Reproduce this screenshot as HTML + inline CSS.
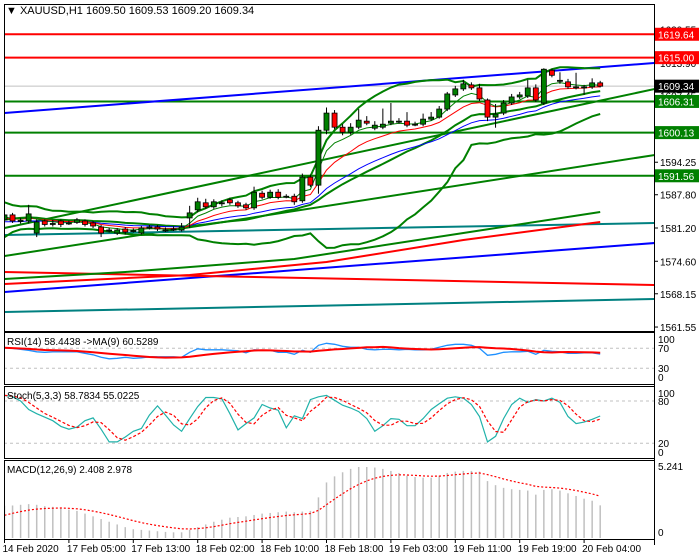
<!DOCTYPE html>
<html><head><meta charset="utf-8"><style>
html,body{margin:0;padding:0;background:#fff;}
svg{display:block;font-family:"Liberation Sans",sans-serif;}
</style></head><body>
<svg id="c" width="700" height="560" viewBox="0 0 700 560" xmlns="http://www.w3.org/2000/svg">
<defs>
<clipPath id="cm"><rect x="4" y="4" width="650" height="327"/></clipPath>
<clipPath id="cr"><rect x="4" y="333" width="650" height="51"/></clipPath>
<clipPath id="cs"><rect x="4" y="387" width="650" height="71"/></clipPath>
<clipPath id="cd"><rect x="4" y="461" width="650" height="78"/></clipPath>
</defs>
<rect x="0" y="0" width="700" height="560" fill="#fff"/>
<g id="main" clip-path="url(#cm)"></g>
<g id="rsi" clip-path="url(#cr)"></g>
<g id="sto" clip-path="url(#cs)"></g>
<g id="macd" clip-path="url(#cd)"></g>
<g id="frames"></g>
<g id="axis"></g>
<g id="taxis"></g>
<text x="6" y="14" font-size="11" fill="#000">▼ XAUUSD,H1  1609.50 1609.53 1609.20 1609.34</text>
<text x="7" y="345" font-size="10" fill="#000">RSI(14) 58.4438  -&gt;MA(9) 60.5289</text>
<text x="7" y="399" font-size="10" fill="#000">Stoch(5,3,3) 58.7834 55.0225</text>
<text x="7" y="473" font-size="10" fill="#000">MACD(12,26,9) 2.408 2.978</text>
</svg>
<script>
const priorCloses=[1579,1578,1580,1582,1584,1586,1585,1583,1584,1582,1583,1584,1581,1582,1583,1584,1582,1583,1584,1583];
const opens=[1582.8,1583.8,1582.6,1582.6,1580.2,1582.6,1582.0,1582.6,1582.2,1582.3,1582.6,1582.2,1581.4,1580.8,1580.2,1581.0,1580.7,1580.2,1581.4,1581.4,1580.8,1581.0,1580.8,1583.2,1584.8,1586.2,1585.4,1586.2,1586.8,1586.2,1585.8,1585.2,1588.1,1587.3,1588.3,1587.5,1587.5,1586.6,1591.3,1589.7,1600.6,1604.0,1601.2,1600.2,1601.2,1602.4,1601.0,1601.2,1602.0,1602.4,1602.4,1601.8,1601.8,1602.8,1603.2,1604.8,1607.6,1608.8,1609.6,1609.0,1606.6,1603.2,1604.0,1606.0,1607.2,1607.4,1609.0,1606.0,1612.5,1610.5,1610.2,1609.2,1609.2,1609.2,1610.0];
const closes=[1583.8,1582.6,1582.7,1584.0,1582.4,1581.9,1582.1,1581.9,1582.2,1582.8,1581.9,1581.6,1580.2,1580.8,1580.8,1580.4,1580.7,1581.2,1581.4,1581.0,1580.8,1581.0,1581.4,1584.2,1586.4,1585.4,1586.4,1586.2,1586.2,1585.6,1585.2,1588.3,1587.3,1588.3,1587.3,1587.5,1586.4,1591.3,1589.7,1600.6,1604.0,1601.2,1600.2,1601.2,1602.6,1602.0,1601.6,1601.8,1602.4,1602.4,1601.6,1601.8,1602.8,1603.2,1604.8,1607.8,1608.8,1609.8,1609.0,1606.8,1603.2,1603.8,1606.0,1607.2,1607.6,1609.0,1606.6,1612.7,1611.5,1610.5,1609.2,1609.2,1609.2,1610.0,1609.34];
const highs=[1584.6,1584.2,1583.2,1585.8,1582.9,1582.9,1582.8,1582.9,1582.7,1583.2,1582.9,1582.6,1581.8,1581.3,1581.2,1581.4,1581.1,1581.6,1581.8,1581.8,1581.3,1581.5,1582.2,1585.6,1587.2,1587.0,1586.9,1586.7,1587.2,1586.6,1586.2,1589.4,1588.6,1588.8,1588.9,1587.9,1588.0,1592.0,1591.8,1601.4,1605.1,1604.6,1601.8,1602.0,1604.8,1603.4,1602.4,1604.9,1606.0,1603.0,1604.2,1602.3,1603.9,1604.2,1605.4,1608.2,1609.4,1610.6,1610.1,1609.8,1606.9,1605.8,1606.6,1607.8,1608.2,1610.6,1609.7,1612.9,1612.8,1612.1,1610.8,1612.0,1609.6,1610.9,1610.4];
const lows=[1582.3,1582.2,1582.1,1582.1,1579.4,1581.5,1581.5,1581.4,1581.8,1582.0,1581.5,1581.2,1579.4,1580.3,1579.8,1579.9,1580.3,1579.9,1580.9,1580.6,1580.4,1580.6,1580.5,1581.2,1584.3,1585.0,1585.0,1585.5,1585.8,1585.2,1584.8,1584.8,1586.9,1587.0,1586.9,1587.1,1585.8,1586.2,1589.3,1588.0,1599.8,1600.8,1599.6,1599.7,1600.8,1601.6,1600.6,1600.8,1601.6,1601.9,1601.2,1601.4,1601.4,1602.5,1602.9,1604.4,1607.2,1608.4,1608.6,1606.4,1602.4,1601.1,1603.6,1605.6,1606.8,1607.0,1606.2,1605.6,1611.1,1609.8,1608.8,1608.7,1607.6,1608.8,1609.1];
const hLevels=[1619.64,1615.00,1606.31,1600.13,1591.56];
const hColors=["#ff0000","#ff0000","#008000","#008000","#008000"];
// trendlines: [startBar,startPrice,endBar,endPrice]
const trendBlueUpper=[0,1604.02,80.75,1613.94];
const trendGreen=[0,1575.64,80.75,1595.68];
const trendGreen2=[0,1581.2,80.75,1608.78];
const trendTealUpper=[0,1579.81,80.75,1582.19];
const trendTealLower=[0,1564.53,80.75,1567.11];
const trendBlueLower=[0,1568.5,80.75,1578.22];
const trendRedFall=[0,1572.47,80.75,1569.89];
const ma100Bars=[0,15,36,57,74];
const ma100Vals=[1571.08,1572.47,1575.05,1580.21,1584.37];
const ma200Bars=[0,23,40,57,74];
const ma200Vals=[1570.09,1571.87,1574.45,1578.82,1582.39];
const priceTicks=[1620.55,1613.90,1607.45,1600.70,1594.25,1587.80,1581.20,1574.60,1568.15,1561.55];
const rsiVals=[71,70,68,66,63,62,63,63,63,63,60,57,52,49,50,52,50,51,53,53,53,53,52,62,69,67,67,67,66,65,61,67,66,66,62,62,58,66,62,76,80,78,74,72,72,68,67,68,68,67,68,67,67,68,72,76,78,78,76,70,56,58,62,63,63,64,58,66,64,63,60,60,61,61,58.44];
const stochK=[88,86,80,68,62,57,52,44,40,43,52,56,40,22,22,29,37,41,60,73,60,46,37,55,72,85,85,83,62,39,48,56,75,70,67,42,59,55,82,86,88,81,74,70,65,55,37,45,55,54,45,45,55,68,76,84,86,84,75,58,22,30,55,75,84,78,82,80,84,78,58,48,50,54,58.78];
const macdVals=[2.38,2.4,2.45,2.5,2.45,2.35,2.3,2.25,2.1,2.0,1.8,1.6,1.4,1.2,1.0,0.8,0.65,0.6,0.55,0.5,0.45,0.42,0.42,0.6,0.8,1.0,1.2,1.35,1.5,1.55,1.6,1.7,1.8,1.85,1.9,1.95,1.9,1.95,2.0,3.0,4.1,4.55,4.85,5.1,5.24,5.24,5.2,5.1,4.95,4.8,4.6,4.5,4.45,4.45,4.6,4.8,4.9,4.95,4.95,4.9,4.2,3.9,3.7,3.6,3.55,3.5,3.2,3.55,3.6,3.5,3.3,3.1,2.9,2.75,2.41];
const macdSignalStart=1.5;
const timeLabels=["14 Feb 2020","17 Feb 05:00","17 Feb 13:00","18 Feb 02:00","18 Feb 10:00","18 Feb 18:00","19 Feb 03:00","19 Feb 11:00","19 Feb 19:00","20 Feb 04:00"];
const rsiScale=[100,70,30,0];
const stochScale=[100,80,20,0];

const NS="http://www.w3.org/2000/svg";
function mk(tag,attrs,parent){const e=document.createElementNS(NS,tag);for(const k in attrs)e.setAttribute(k,attrs[k]);parent.appendChild(e);return e;}
const xOf=i=>4.5+i*8.05;
const yP=p=>228-(p-1581.2)*5.04;
const yR=v=>383.3-0.5*v;
const yS=v=>457.4-0.705*v;
const yM=v=>538-v*13.55;
const G=id=>document.getElementById(id);
const main=G('main'),rsi=G('rsi'),sto=G('sto'),macd=G('macd'),frames=G('frames'),axis=G('axis'),taxis=G('taxis');

function poly(vals,startIdx,yf,parent,stroke,w,name,dash){
  let pts=[];vals.forEach((v,i)=>{if(v!=null)pts.push(xOf(i+startIdx).toFixed(1)+','+yf(v).toFixed(1));});
  const a={points:pts.join(' '),fill:'none',stroke:stroke,'stroke-width':w};
  if(dash)a['stroke-dasharray']=dash;
  const e=mk('polyline',a,parent);
  
  
  return e;
}
function ema(arr,n){const k=2/(n+1);let out=[],p=arr[0];arr.forEach((v,i)=>{p=i?v*k+p*(1-k):v;out.push(p);});return out;}
function sma(arr,n){return arr.map((v,i)=>{const s=arr.slice(Math.max(0,i-n+1),i+1);return s.reduce((a,b)=>a+b,0)/s.length;});}

hLevels.forEach((p,i)=>{
  const l=mk('line',{x1:4,x2:654,y1:yP(p),y2:yP(p),stroke:hColors[i],'stroke-width':2},main);
  
  
});
const cl=mk('line',{x1:4,x2:654,y1:yP(closes[closes.length-1]),y2:yP(closes[closes.length-1]),stroke:'#c0c0c0','stroke-width':1},main);



function trend(t,color,name,w){
  const l=mk('line',{x1:xOf(t[0]),y1:yP(t[1]),x2:xOf(t[2]),y2:yP(t[3]),stroke:color,'stroke-width':w||2},main);
  
  
}
trend(trendBlueUpper,'#0000ff','trendline-blue-upper');
trend(trendGreen,'#008000','trendline-green');
trend(trendGreen2,'#008000','trendline-green-2');
trend(trendTealUpper,'#008080','trendline-teal-upper');
trend(trendTealLower,'#008080','trendline-teal-lower');
trend(trendBlueLower,'#0000ff','trendline-blue-lower');
trend(trendRedFall,'#ff0000','trendline-red');

function sparse(bars,vals,color,name){
  const pts=bars.map((b,i)=>xOf(b).toFixed(1)+','+yP(vals[i]).toFixed(1)).join(' ');
  const e=mk('polyline',{points:pts,fill:'none',stroke:color,'stroke-width':2},main);
  
  
}
sparse(ma100Bars,ma100Vals,'#008000','ma-100');
sparse(ma200Bars,ma200Vals,'#ff0000','ma-200');

const all=priorCloses.concat(closes);const off=priorCloses.length;
const up=[],mid=[],lo=[];
closes.forEach((c,i)=>{const j=i+off;const s=all.slice(j-19,j+1);const m=s.reduce((a,b)=>a+b,0)/20;const sd=Math.sqrt(s.reduce((a,b)=>a+(b-m)*(b-m),0)/20);up.push(m+2*sd);mid.push(m);lo.push(m-2*sd);});
poly(up,0,yP,main,'#008000',2,'bollinger-upper');
poly(mid,0,yP,main,'#008000',2,'bollinger-middle');
poly(lo,0,yP,main,'#008000',2,'bollinger-lower');
const e5=ema(all,5).slice(off),e10=ema(all,10).slice(off),e21=ema(all,21).slice(off);
poly(e21,0,yP,main,'#0000ff',1,'ema-slow');
poly(e10,0,yP,main,'#ff0000',1,'ema-medium');
poly(e5,0,yP,main,'#008000',1,'ema-fast');

closes.forEach((c,i)=>{
  const o=opens[i],x=xOf(i);
  const w=mk('line',{x1:x,x2:x,y1:yP(highs[i]),y2:yP(lows[i]),stroke:'#000','stroke-width':1},main);
  
  
  const t=Math.min(yP(o),yP(c)),h=Math.max(1,Math.abs(yP(o)-yP(c)));
  const b=mk('rect',{x:x-2.5,y:t,width:5,height:h,fill:c>=o?'#008000':'#ff0000',stroke:'#000','stroke-width':0.8},main);
  
  
});

[70,30].forEach(v=>{const l=mk('line',{x1:4,x2:654,y1:yR(v),y2:yR(v),stroke:'#c0c0c0','stroke-dasharray':'3,3'},rsi);

});
poly(rsiVals,0,yR,rsi,'#1e90ff',1.3,'rsi-line');
poly(sma(rsiVals,9),0,yR,rsi,'#ff0000',2,'rsi-ma-line');

[80,20].forEach(v=>{const l=mk('line',{x1:4,x2:654,y1:yS(v),y2:yS(v),stroke:'#c0c0c0','stroke-dasharray':'3,3'},sto);

});
poly(stochK,0,yS,sto,'#20b2aa',1.2,'stoch-k-line');
poly(sma(stochK,3),0,yS,sto,'#ff0000',1.2,'stoch-d-line','3,2');

macdVals.forEach((v,i)=>{const x=xOf(i);const b=mk('line',{x1:x,x2:x,y1:yM(0),y2:yM(v),stroke:'#c0c0c0','stroke-width':1.5},macd);

});
let sig=[],s=macdSignalStart;macdVals.forEach(v=>{s=s+0.2*(v-s);sig.push(s);});
poly(sig,0,yM,macd,'#ff0000',1.2,'macd-signal-line','2,2');

[[4,4,650,327],[4,332,650,52],[4,386,650,72],[4,460,650,79]].forEach((r,i)=>{
  const f=mk('rect',{x:r[0]+0.5,y:r[1]+0.5,width:r[2],height:r[3],fill:'none',stroke:'#000','stroke-width':1},frames);
  
  
});
const vax=mk('line',{x1:654.5,x2:654.5,y1:4,y2:545,stroke:'#000'},frames);



priceTicks.forEach(p=>{const y=yP(p);
  const tk=mk('line',{x1:654,x2:658,y1:y,y2:y,stroke:'#000'},axis);
  
  
  const t=mk('text',{x:660,y:y+4,'font-size':10,fill:'#000'},axis);t.textContent=p.toFixed(2);
  
  
});
const boxes=[[1619.64,'#ff0000'],[1615.00,'#ff0000'],[1609.34,'#000000'],[1606.31,'#008000'],[1600.13,'#008000'],[1591.56,'#008000']];
boxes.forEach(bx=>{const y=yP(bx[0]);
  const r=mk('rect',{x:655,y:y-6.5,width:44,height:13,fill:bx[1]},axis);
  
  
  const t=mk('text',{x:658,y:y+4,'font-size':10,fill:'#fff'},axis);t.textContent=bx[0].toFixed(2);
  
  
});
const rsiLabelY=[343,352,372,381];
rsiScale.forEach((v,i)=>{const t=mk('text',{x:658,y:rsiLabelY[i],'font-size':10,fill:'#000'},axis);t.textContent=v;

});
const stochLabelY=[397,405,447,456];
stochScale.forEach((v,i)=>{const t=mk('text',{x:658,y:stochLabelY[i],'font-size':10,fill:'#000'},axis);t.textContent=v;

});
[[5.241,470],[0,536]].forEach(a=>{const t=mk('text',{x:658,y:a[1],'font-size':10,fill:'#000'},axis);t.textContent=a[0];

});

timeLabels.forEach((lab,k)=>{const x=xOf(k*8);
  const tk=mk('line',{x1:x,x2:x,y1:539,y2:543,stroke:'#000'},taxis);
  
  
  const t=mk('text',{x:x-2,y:552,'font-size':10,fill:'#000'},taxis);t.textContent=lab;
  
  
});
</script>
</body></html>
